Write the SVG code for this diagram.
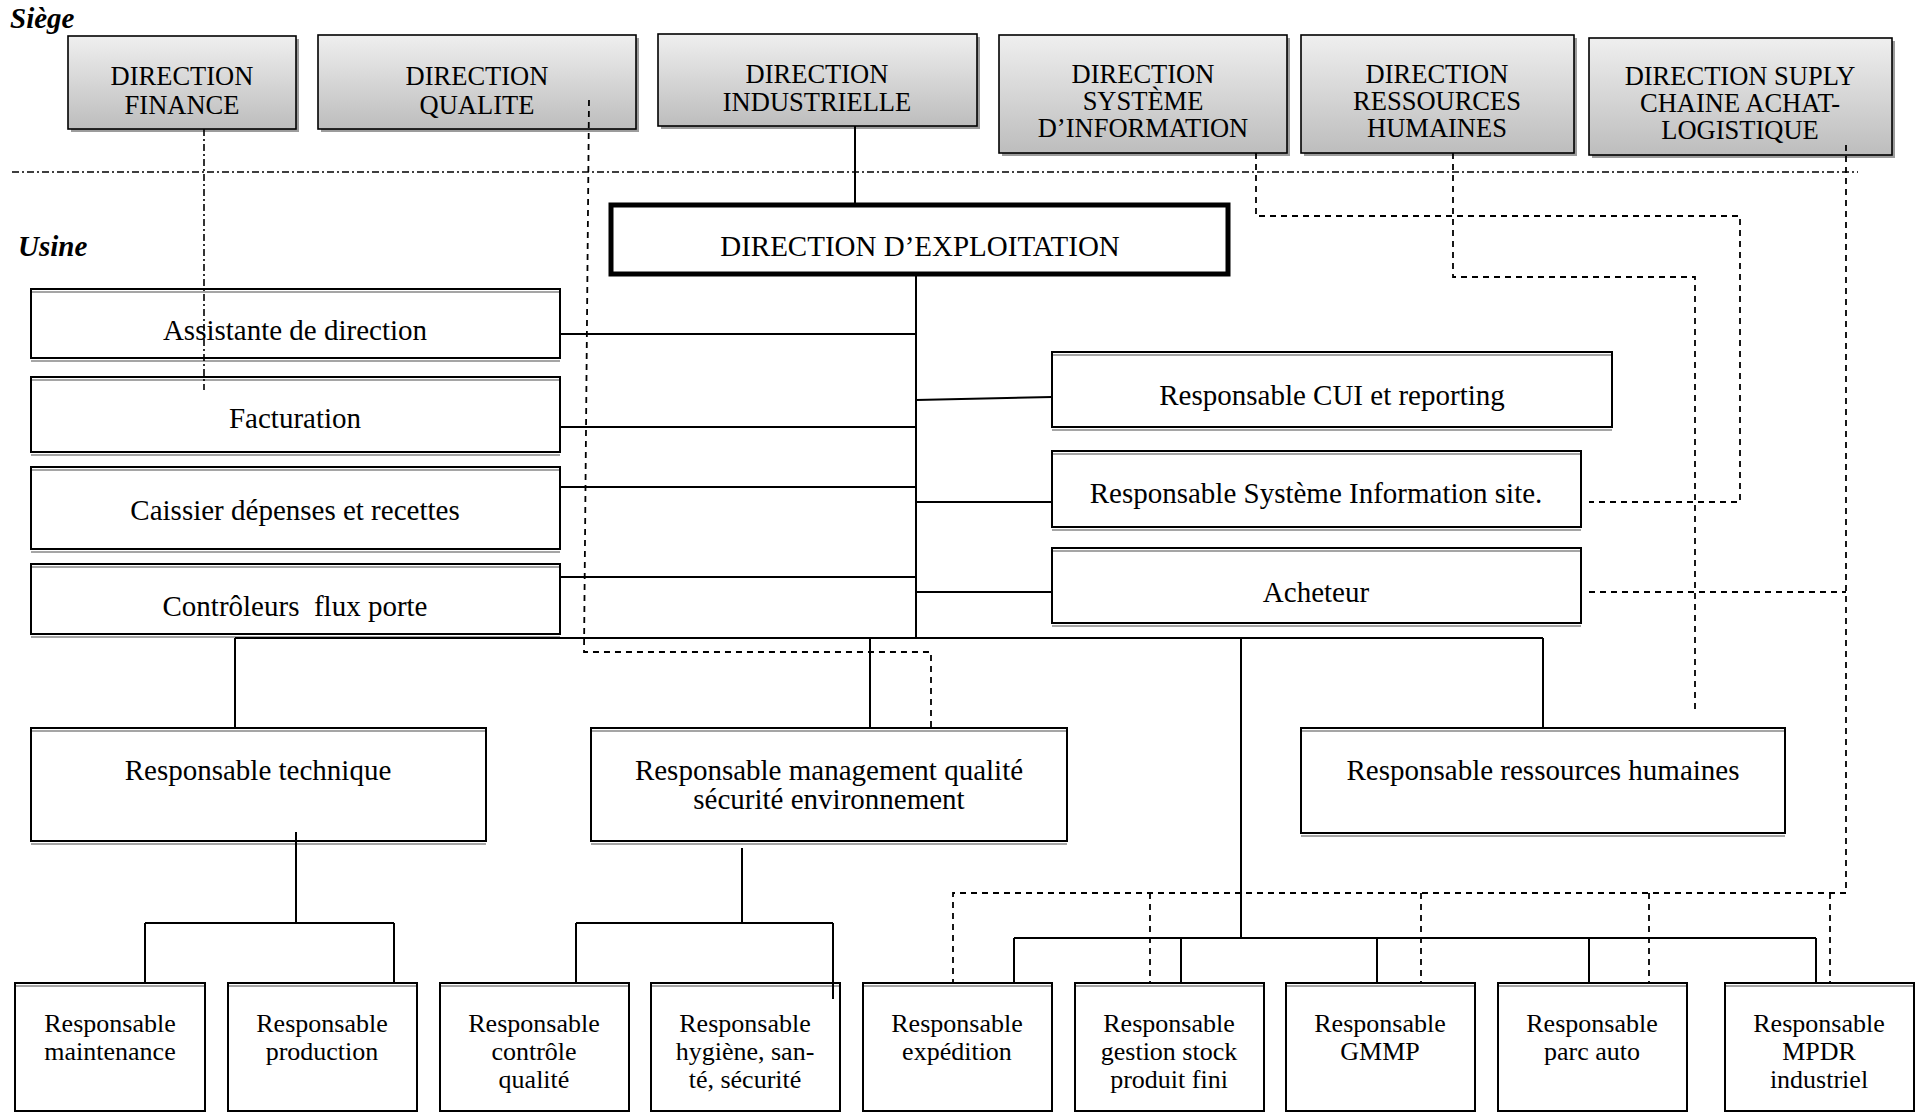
<svg xmlns="http://www.w3.org/2000/svg" width="1922" height="1113" viewBox="0 0 1922 1113">
<defs>
<linearGradient id="g" x1="0" y1="0" x2="0" y2="1">
<stop offset="0" stop-color="#efefef"/>
<stop offset="1" stop-color="#bdbdbd"/>
</linearGradient>
<style>
text{font-family:"Liberation Serif","Times New Roman",serif;fill:#000;text-anchor:middle;white-space:pre}
.top{font-size:26.5px}
.mid{font-size:29px}
.bot{font-size:26px}
.lbl{font-size:29px;font-weight:bold;font-style:italic;text-anchor:start}
.tb{fill:url(#g);stroke:#000;stroke-width:1.6}
.sh{fill:#9c9c9c}
.bx{fill:#fff;stroke:#000;stroke-width:2}
.gl{stroke:#a5a5a5;stroke-width:2;fill:none}
.ex{fill:#fff;stroke:#000;stroke-width:5}
.c{fill:none;stroke:#000;stroke-width:2}
.d{fill:none;stroke:#000;stroke-width:1.8;stroke-dasharray:6 5}
.dd{fill:none;stroke:#000;stroke-width:1.6;stroke-dasharray:7 3 2 3}
</style>
</defs>
<rect width="1922" height="1113" fill="#fff"/>
<text class="lbl" x="10" y="28">Siège</text>
<text class="lbl" x="18" y="256">Usine</text>

<g id="n-finance"><rect class="sh" x="71" y="39" width="228" height="93"/><rect class="tb" x="68" y="36" width="228" height="93"/><text class="top" x="182" y="85">DIRECTION</text><text class="top" x="182" y="114">FINANCE</text></g>
<g id="n-qualite"><rect class="sh" x="321" y="38" width="318" height="94"/><rect class="tb" x="318" y="35" width="318" height="94"/><text class="top" x="477" y="85">DIRECTION</text><text class="top" x="477" y="114">QUALITE</text></g>
<g id="n-industrielle"><rect class="sh" x="661" y="37" width="319" height="92"/><rect class="tb" x="658" y="34" width="319" height="92"/><text class="top" x="817" y="83">DIRECTION</text><text class="top" x="817" y="111">INDUSTRIELLE</text></g>
<g id="n-dsi"><rect class="sh" x="1002" y="38" width="288" height="118"/><rect class="tb" x="999" y="35" width="288" height="118"/><text class="top" x="1143" y="83">DIRECTION</text><text class="top" x="1143" y="110">SYSTÈME</text><text class="top" x="1143" y="137">D’INFORMATION</text></g>
<g id="n-drh"><rect class="sh" x="1304" y="38" width="273" height="118"/><rect class="tb" x="1301" y="35" width="273" height="118"/><text class="top" x="1437" y="83">DIRECTION</text><text class="top" x="1437" y="110">RESSOURCES</text><text class="top" x="1437" y="137">HUMAINES</text></g>
<g id="n-supply"><rect class="sh" x="1592" y="41" width="303" height="117"/><rect class="tb" x="1589" y="38" width="303" height="117"/><text class="top" x="1740" y="85">DIRECTION SUPLY</text><text class="top" x="1740" y="112">CHAINE ACHAT-</text><text class="top" x="1740" y="139">LOGISTIQUE</text></g>

<g id="n-exploitation"><rect class="ex" x="611" y="205" width="617" height="69"/><text class="mid" x="920" y="256">DIRECTION D’EXPLOITATION</text></g>

<g id="n-assistante"><rect class="bx" x="31" y="289" width="529" height="69"/><path class="gl" d="M32,292 H559 M31,361 H560"/><text class="mid" x="295" y="340">Assistante de direction</text></g>
<g id="n-facturation"><rect class="bx" x="31" y="377" width="529" height="75"/><path class="gl" d="M32,380 H559 M31,455 H560"/><text class="mid" x="295" y="428">Facturation</text></g>
<g id="n-caissier"><rect class="bx" x="31" y="467" width="529" height="82"/><path class="gl" d="M32,470 H559 M31,552 H560"/><text class="mid" x="295" y="520">Caissier dépenses et recettes</text></g>
<g id="n-controleurs"><rect class="bx" x="31" y="564" width="529" height="70"/><path class="gl" d="M32,567 H559 M31,637 H560"/><text class="mid" x="295" y="616">Contrôleurs  flux porte</text></g>

<g id="n-cui"><rect class="bx" x="1052" y="352" width="560" height="75"/><path class="gl" d="M1053,355 H1611 M1052,430 H1612"/><text class="mid" x="1332" y="405">Responsable CUI et reporting</text></g>
<g id="n-si"><rect class="bx" x="1052" y="451" width="529" height="76"/><path class="gl" d="M1053,454 H1580 M1052,530 H1581"/><text class="mid" x="1316" y="503">Responsable Système Information site.</text></g>
<g id="n-acheteur"><rect class="bx" x="1052" y="548" width="529" height="75"/><path class="gl" d="M1053,551 H1580 M1052,626 H1581"/><text class="mid" x="1316" y="602">Acheteur</text></g>

<g id="n-technique"><rect class="bx" x="31" y="728" width="455" height="113"/><path class="gl" d="M32,731 H485 M31,844 H486"/><text class="mid" x="258" y="780">Responsable technique</text></g>
<g id="n-management"><rect class="bx" x="591" y="728" width="476" height="113"/><path class="gl" d="M592,731 H1066 M591,844 H1067"/><text class="mid" x="829" y="780">Responsable management qualité</text><text class="mid" x="829" y="809">sécurité environnement</text></g>
<g id="n-rh"><rect class="bx" x="1301" y="728" width="484" height="105"/><path class="gl" d="M1302,731 H1784 M1301,836 H1785"/><text class="mid" x="1543" y="780">Responsable ressources humaines</text></g>

<g id="n-maintenance"><rect class="bx" x="15" y="983" width="190" height="128"/><path class="gl" d="M16,986 H204"/><text class="bot" x="110" y="1032">Responsable</text><text class="bot" x="110" y="1060">maintenance</text></g>
<g id="n-production"><rect class="bx" x="228" y="983" width="189" height="128"/><path class="gl" d="M229,986 H416"/><text class="bot" x="322" y="1032">Responsable</text><text class="bot" x="322" y="1060">production</text></g>
<g id="n-controle"><rect class="bx" x="440" y="983" width="189" height="128"/><path class="gl" d="M441,986 H628"/><text class="bot" x="534" y="1032">Responsable</text><text class="bot" x="534" y="1060">contrôle</text><text class="bot" x="534" y="1088">qualité</text></g>
<g id="n-hygiene"><rect class="bx" x="651" y="983" width="189" height="128"/><path class="gl" d="M652,986 H839"/><text class="bot" x="745" y="1032">Responsable</text><text class="bot" x="745" y="1060">hygiène, san-</text><text class="bot" x="745" y="1088">té, sécurité</text></g>
<g id="n-expedition"><rect class="bx" x="863" y="983" width="189" height="128"/><path class="gl" d="M864,986 H1051"/><text class="bot" x="957" y="1032">Responsable</text><text class="bot" x="957" y="1060">expédition</text></g>
<g id="n-stock"><rect class="bx" x="1075" y="983" width="189" height="128"/><path class="gl" d="M1076,986 H1263"/><text class="bot" x="1169" y="1032">Responsable</text><text class="bot" x="1169" y="1060">gestion stock</text><text class="bot" x="1169" y="1088">produit fini</text></g>
<g id="n-gmmp"><rect class="bx" x="1286" y="983" width="189" height="128"/><path class="gl" d="M1287,986 H1474"/><text class="bot" x="1380" y="1032">Responsable</text><text class="bot" x="1380" y="1060">GMMP</text></g>
<g id="n-parc"><rect class="bx" x="1498" y="983" width="189" height="128"/><path class="gl" d="M1499,986 H1686"/><text class="bot" x="1592" y="1032">Responsable</text><text class="bot" x="1592" y="1060">parc auto</text></g>
<g id="n-mpdr"><rect class="bx" x="1725" y="983" width="189" height="128"/><path class="gl" d="M1726,986 H1913"/><text class="bot" x="1819" y="1032">Responsable</text><text class="bot" x="1819" y="1060">MPDR</text><text class="bot" x="1819" y="1088">industriel</text></g>

<g id="connectors">
<path class="dd" d="M12,172 H1858"/>
<path class="dd" d="M204,129 V390"/>
<path class="c" d="M855,126 V203"/>
<path class="c" d="M916,276 V638"/>
<path class="c" d="M560,334 H916 M560,427 H916 M560,487 H916 M560,577 H916"/>
<path class="c" d="M916,400 L1052,397 M916,502 H1052 M916,592 H1052"/>
<path class="c" d="M235,638 H1543 M235,638 V728 M870,638 V728 M1543,638 V728 M1241,638 V938"/>
<path class="c" d="M296,832 V923 M145,923 H394 M145,923 V983 M394,923 V983"/>
<path class="c" d="M742,848 V923 M576,923 H833 M576,923 V983 M833,923 V999"/>
<path class="c" d="M1014,938 H1816 M1014,938 V983 M1181,938 V983 M1377,938 V983 M1589,938 V983 M1816,938 V983"/>
<path class="d" d="M589,100 L584,652 H931 V728"/>
<path class="d" d="M1256,153 V216 H1740 V502 H1589"/>
<path class="d" d="M1453,153 V277 H1695 V713"/>
<path class="d" d="M1846,145 V893 H953 V983 M1150,893 V983 M1421,893 V983 M1649,893 V983 M1830,893 V983"/>
<path class="d" d="M1589,592 H1846"/>
</g>
</svg>
